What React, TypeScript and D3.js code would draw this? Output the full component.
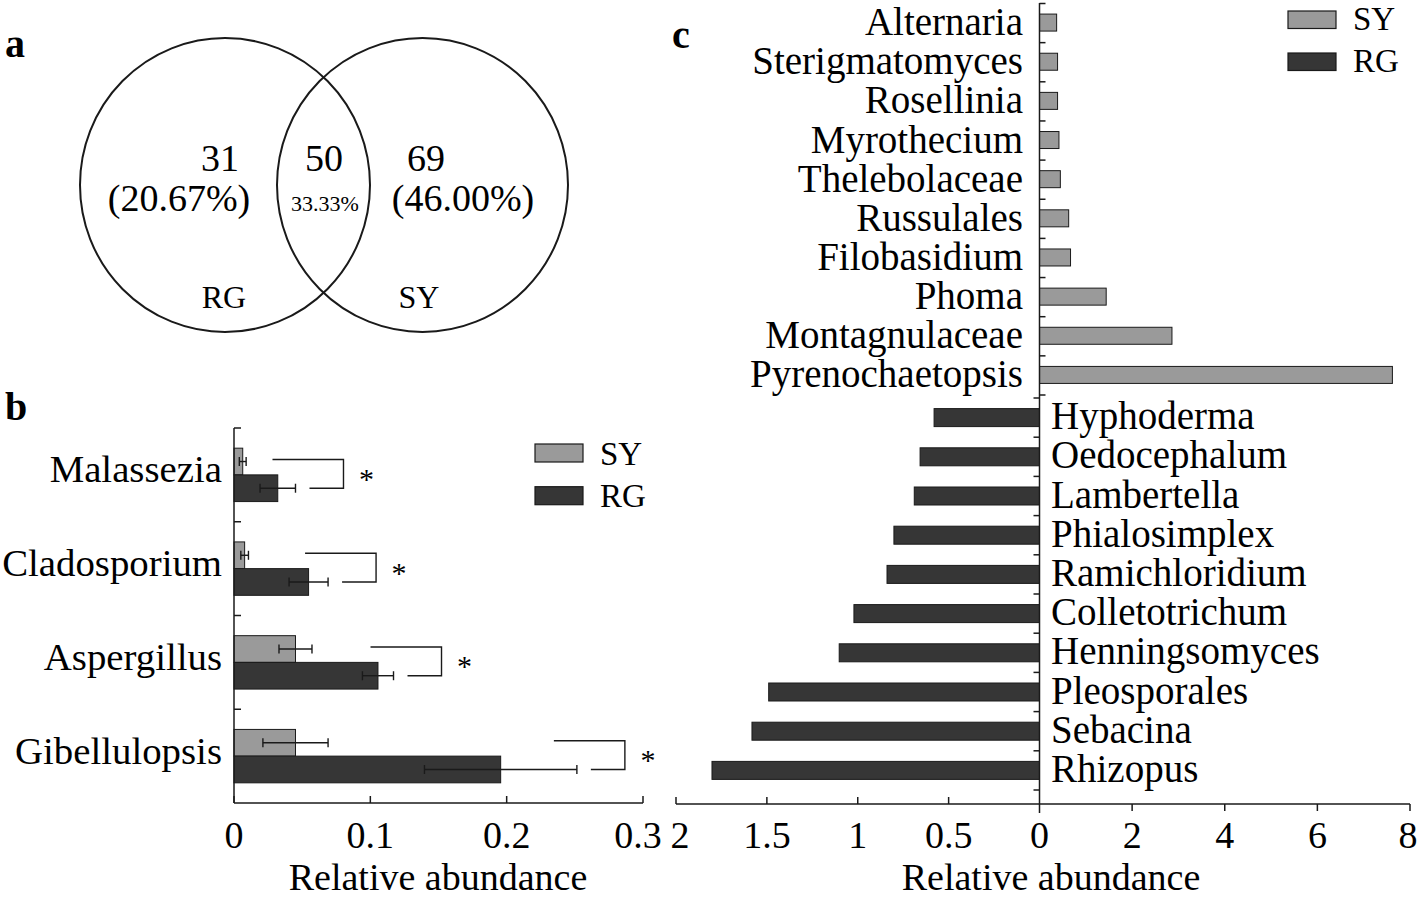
import React from 'react';
import * as d3 from 'd3';

// ---------- Data ----------
const vennSets = ['RG', 'SY'];
const vennCounts = [31, 50, 69];
const vennPercents = ['(20.67%)', '33.33%', '(46.00%)'];

const bCategories = ['Malassezia', 'Cladosporium', 'Aspergillus', 'Gibellulopsis'];
const bSY = [0.0064, 0.0078, 0.0451, 0.0451];
const bSYerr = [0.0025, 0.0028, 0.0121, 0.0239];
const bRG = [0.0321, 0.0547, 0.1056, 0.1956];
const bRGerr = [0.013, 0.0143, 0.0114, 0.0559];
const bSig = ['*', '*', '*', '*'];
const bTicks = [0, 0.1, 0.2, 0.3];

const cSYCategories = ['Alternaria', 'Sterigmatomyces', 'Rosellinia', 'Myrothecium', 'Thelebolaceae', 'Russulales', 'Filobasidium', 'Phoma', 'Montagnulaceae', 'Pyrenochaetopsis'];
const cSY = [0.37, 0.39, 0.39, 0.42, 0.45, 0.63, 0.67, 1.44, 2.86, 7.62];
const cRGCategories = ['Hyphoderma', 'Oedocephalum', 'Lambertella', 'Phialosimplex', 'Ramichloridium', 'Colletotrichum', 'Henningsomyces', 'Pleosporales', 'Sebacina', 'Rhizopus'];
const cRG = [0.58, 0.657, 0.689, 0.801, 0.839, 1.021, 1.102, 1.49, 1.582, 1.802];
const cLeftTicks = [2, 1.5, 1, 0.5, 0];
const cRightTicks = [2, 4, 6, 8];

const legendSeries = ['SY', 'RG'];
const axisTitle = 'Relative abundance';

// ---------- Style ----------
const FONT = '"Liberation Serif", "Times New Roman", serif';
const SY_FILL = '#9a9a9a';
const RG_FILL = '#363636';
const LINE = '#1a1a1a';
const fills: Record<string, string> = { SY: SY_FILL, RG: RG_FILL };

export default function App() {
  // ----- Panel b scales -----
  const bx = d3.scaleLinear().domain([0, 0.3]).range([234, 643]);
  const by = d3.scaleBand<string>().domain(bCategories).range([428, 803]);
  const bBarH = 26.7;
  const bAxisY = 803;

  // ----- Panel c scales -----
  const cxL = d3.scaleLinear().domain([0, 2]).range([1039.5, 676]);
  const cxR = d3.scaleLinear().domain([0, 8]).range([1039.5, 1410]);
  const cyTop = d3.scaleBand<string>().domain(cSYCategories).range([3.5, 395]);
  const cyBot = d3.scaleBand<string>().domain(cRGCategories).range([398, 790]);
  const cAxisY = 804;
  const x0 = cxR(0);

  // ----- Venn -----
  const venn = [
    { cx: 225, cy: 185, rx: 145, ry: 147 },
    { cx: 422.5, cy: 185, rx: 145.5, ry: 147 },
  ];

  const fmt = d3.format('~g');

  const errBar = (xc: number, e: number, y: number, key: string) => {
    const l = bx(xc - e), r = bx(xc + e);
    return (
      <g key={key} stroke={LINE} strokeWidth={1.4}>
        <line x1={l} x2={r} y1={y} y2={y} />
        <line x1={l} x2={l} y1={y - 4.5} y2={y + 4.5} />
        <line x1={r} x2={r} y1={y - 4.5} y2={y + 4.5} />
      </g>
    );
  };

  return (
    <svg width={1418} height={899} style={{ position: 'absolute', left: 0, top: 0, background: '#fff' }} fontFamily={FONT}>
      <rect x={0} y={0} width={1418} height={899} fill="#fff" />
      {/* Panel labels */}
      <text x={5} y={57} fontSize={40} fontWeight="bold">a</text>
      <text x={5} y={420} fontSize={40} fontWeight="bold">b</text>
      <text x={672} y={48} fontSize={40} fontWeight="bold">c</text>

      {/* ---------- Panel a: Venn ---------- */}
      {venn.map((v, i) => (
        <ellipse key={i} cx={v.cx} cy={v.cy} rx={v.rx} ry={v.ry} fill="none" stroke={LINE} strokeWidth={2} />
      ))}
      <text x={220} y={171} fontSize={38} textAnchor="middle">{vennCounts[0]}</text>
      <text x={179} y={211} fontSize={38} textAnchor="middle">{vennPercents[0]}</text>
      <text x={324} y={171} fontSize={38} textAnchor="middle">{vennCounts[1]}</text>
      <text x={325} y={211} fontSize={22} textAnchor="middle">{vennPercents[1]}</text>
      <text x={426} y={171} fontSize={38} textAnchor="middle">{vennCounts[2]}</text>
      <text x={463} y={211} fontSize={38} textAnchor="middle">{vennPercents[2]}</text>
      <text x={224} y={308} fontSize={32} textAnchor="middle">{vennSets[0]}</text>
      <text x={419} y={308} fontSize={32} textAnchor="middle">{vennSets[1]}</text>

      {/* ---------- Panel b ---------- */}
      {bCategories.map((c, i) => {
        const y0 = by(c)!;
        const mid = y0 + by.bandwidth() / 2;
        const ySY = mid - bBarH;
        const yRG = mid;
        const cSYy = ySY + bBarH / 2;
        const cRGy = yRG + bBarH / 2;
        const bracketR = bx(bRG[i] + bRGerr[i]) + 48;
        return (
          <g key={c}>
            <rect x={bx(0)} y={ySY} width={bx(bSY[i]) - bx(0)} height={bBarH} fill={SY_FILL} stroke={LINE} strokeWidth={1} />
            <rect x={bx(0)} y={yRG} width={bx(bRG[i]) - bx(0)} height={bBarH} fill={RG_FILL} stroke={LINE} strokeWidth={1} />
            {errBar(bSY[i], bSYerr[i], cSYy, 'esy')}
            {errBar(bRG[i], bRGerr[i], cRGy, 'erg')}
            <g stroke={LINE} strokeWidth={1.4} fill="none">
              <polyline points={`${bracketR - 71},${cSYy - 2} ${bracketR},${cSYy - 2} ${bracketR},${cRGy} ${bracketR - 34},${cRGy}`} />
            </g>
            <text x={bracketR + 23} y={(cSYy + cRGy) / 2 + 14} fontSize={30} textAnchor="middle">{bSig[i]}</text>
            <text x={222} y={mid + 7.5} fontSize={38.8} textAnchor="end">{c}</text>
          </g>
        );
      })}
      {/* b axes */}
      <g stroke={LINE} strokeWidth={1.5}>
        <line x1={bx(0)} x2={bx(0)} y1={428} y2={bAxisY} />
        <line x1={bx(0)} x2={bx(0.3)} y1={bAxisY} y2={bAxisY} />
        {bCategories.map((c) => (
          <line key={c} x1={bx(0)} x2={bx(0) + 7} y1={by(c)!} y2={by(c)!} />
        ))}
        {bTicks.map((t) => (
          <line key={t} x1={bx(t)} x2={bx(t)} y1={bAxisY} y2={bAxisY - 7} />
        ))}
      </g>
      {bTicks.map((t, i) => (
        <text key={t} x={bx(t) - (i === bTicks.length - 1 ? 5 : 0)} y={848} fontSize={38} textAnchor="middle">{fmt(t)}</text>
      ))}
      <text x={438} y={890} fontSize={38} textAnchor="middle">{axisTitle}</text>
      {/* b legend */}
      {legendSeries.map((s, i) => (
        <g key={s}>
          <rect x={535} y={444 + i * 42.7} width={48} height={18} fill={fills[s]} stroke={LINE} strokeWidth={1.2} />
          <text x={600} y={465 + i * 42} fontSize={33}>{s}</text>
        </g>
      ))}

      {/* ---------- Panel c ---------- */}
      {cSYCategories.map((c, i) => {
        const mid = cyTop(c)! + cyTop.bandwidth() / 2;
        return (
          <g key={c}>
            <rect x={x0} y={mid - 9} width={cxR(cSY[i]) - x0} height={17} fill={SY_FILL} stroke={LINE} strokeWidth={1} />
            <text x={1023} y={mid + 12} fontSize={39} textAnchor="end">{c}</text>
          </g>
        );
      })}
      {cRGCategories.map((c, i) => {
        const mid = cyBot(c)! + cyBot.bandwidth() / 2;
        return (
          <g key={c}>
            <rect x={cxL(cRG[i])} y={mid - 9} width={x0 - cxL(cRG[i])} height={18} fill={RG_FILL} stroke={LINE} strokeWidth={1} />
            <text x={1051} y={mid + 11.5} fontSize={39} >{c}</text>
          </g>
        );
      })}
      <g stroke={LINE} strokeWidth={1.5}>
        <line x1={x0} x2={x0} y1={3} y2={813} />
        {cSYCategories.map((c) => (
          <line key={c} x1={x0} x2={x0 + 6} y1={cyTop(c)!} y2={cyTop(c)!} />
        ))}
        <line x1={x0} x2={x0 + 6} y1={395} y2={395} />
        {cRGCategories.map((c) => (
          <line key={c} x1={x0} x2={x0 - 6} y1={cyBot(c)!} y2={cyBot(c)!} />
        ))}
        <line x1={x0} x2={x0 - 6} y1={790} y2={790} />
        <line x1={cxL(2)} x2={cxR(8)} y1={cAxisY} y2={cAxisY} />
        {cLeftTicks.filter((t) => t !== 0).map((t) => (
          <line key={'l' + t} x1={cxL(t)} x2={cxL(t)} y1={cAxisY} y2={cAxisY - 7} />
        ))}
        {cRightTicks.map((t) => (
          <line key={'r' + t} x1={cxR(t)} x2={cxR(t)} y1={cAxisY} y2={cAxisY + 7} />
        ))}
      </g>
      {cLeftTicks.map((t, i) => (
        <text key={'lt' + t} x={cxL(t) + (i === 0 ? 4 : 0)} y={848} fontSize={38} textAnchor="middle">{fmt(t)}</text>
      ))}
      {cRightTicks.map((t, i) => (
        <text key={'rt' + t} x={cxR(t) - (i === cRightTicks.length - 1 ? 2 : 0)} y={848} fontSize={38} textAnchor="middle">{fmt(t)}</text>
      ))}
      <text x={1051} y={890} fontSize={38} textAnchor="middle">{axisTitle}</text>
      {/* c legend */}
      {legendSeries.map((s, i) => (
        <g key={s}>
          <rect x={1288} y={11 + i * 42} width={48} height={17.5} fill={fills[s]} stroke={LINE} strokeWidth={1.2} />
          <text x={1353} y={30 + i * 41.7} fontSize={33}>{s}</text>
        </g>
      ))}
    </svg>
  );
}
